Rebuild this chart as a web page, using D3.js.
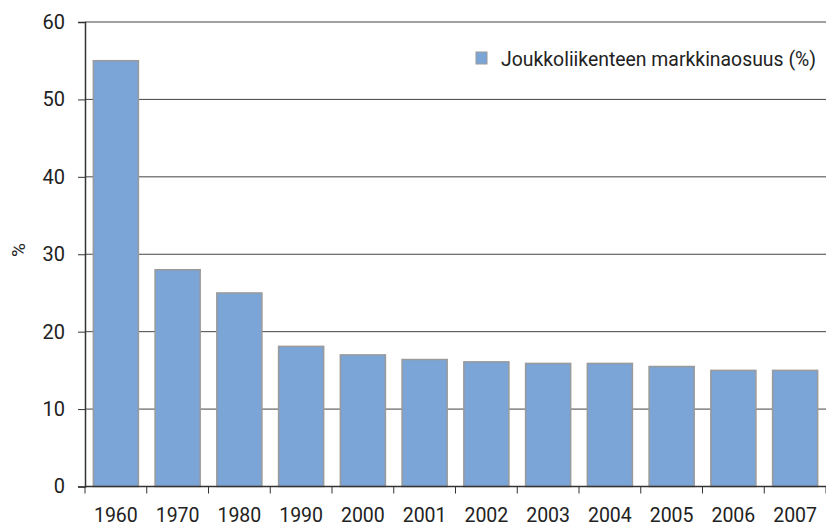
<!DOCTYPE html>
<html><head><meta charset="utf-8">
<script src="https://cdn.jsdelivr.net/npm/d3@7"></script>
<style>body{margin:0;background:#fff}svg{display:block}text{font-family:Roboto,sans-serif;fill:#222}</style>
</head><body><svg id="c" width="826" height="527"></svg>
<script>
const categories = ["1960","1970","1980","1990","2000","2001","2002","2003","2004","2005","2006","2007"];
const values = [55, 28, 25, 18.1, 17.0, 16.4, 16.1, 15.9, 15.9, 15.5, 15.0, 15.0];
const yTicks = [0,10,20,30,40,50,60];
const seriesName = "Joukkoliikenteen markkinaosuus (%)";
const yLabel = "%";

const svg = d3.select("#c");
const L = 85, R = 826, T = 22, B = 486.5;
const x = d3.scaleBand().domain(categories).range([L, R]).paddingInner(0.27).paddingOuter(0.135);
const y = d3.scaleLinear().domain([0, 60]).range([B, T]);

// gridlines
svg.append("g").selectAll("line").data(yTicks.filter(d=>d>0)).join("line")
  .attr("x1", L).attr("x2", R).attr("y1", d=>y(d)).attr("y2", d=>y(d))
  .attr("stroke", "#444").attr("stroke-width", 1);

// bars
svg.append("g").selectAll("rect").data(values).join("rect")
  .attr("x", (d,i)=>x(categories[i])).attr("width", x.bandwidth())
  .attr("y", d=>y(d)).attr("height", d=>B - y(d))
  .attr("fill", "#7ba4d7").attr("stroke", "#9a9a9a").attr("stroke-width", 1.5);

// y axis
const ya = svg.append("g").attr("transform", `translate(${L},0)`)
  .call(d3.axisLeft(y).tickValues(yTicks).tickSize(7).tickPadding(13));
ya.select(".domain").attr("stroke", "#333").attr("stroke-width", 1.5);
ya.selectAll(".tick line").attr("stroke", "#333");
ya.selectAll("text").attr("font-size", 20).attr("fill", "#222").style("font-family", "Roboto,sans-serif");

// x axis
const xa = svg.append("g").attr("transform", `translate(0,${B})`);
xa.append("line").attr("x1", L).attr("x2", R).attr("stroke", "#333").attr("stroke-width", 1.5);
const step = (R - L) / categories.length;
const edges = d3.range(categories.length + 1).map(i => L + i * step);
xa.selectAll("line.t").data(edges).join("line").attr("class","t")
  .attr("x1", d=>d).attr("x2", d=>d).attr("y1", 0).attr("y2", 7).attr("stroke", "#333");
xa.selectAll("text").data(categories).join("text")
  .attr("x", d=>x(d) + x.bandwidth()/2).attr("y", 35)
  .attr("text-anchor", "middle").attr("font-size", 19.5).text(d=>d);

// y label
svg.append("text").attr("transform", "translate(25,250) rotate(-90)")
  .attr("text-anchor", "middle").attr("font-size", 19).text(yLabel);

// legend
svg.append("rect").attr("x", 476).attr("y", 52).attr("width", 11).attr("height", 12)
  .attr("fill", "#7ba4d7").attr("stroke", "#9a9a9a").attr("stroke-width", 1);
svg.append("text").attr("x", 501).attr("y", 65.5).attr("font-size", 19.4).text(seriesName);
</script></body></html>
